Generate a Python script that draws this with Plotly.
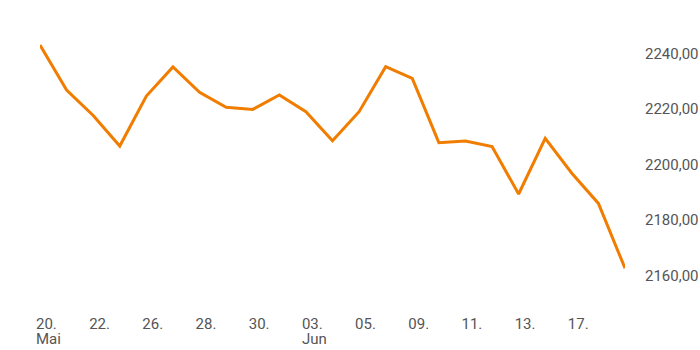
import plotly.graph_objects as go

dates = ["20.05", "21.05", "22.05", "23.05", "26.05", "27.05", "28.05", "29.05",
         "30.05", "31.05", "03.06", "04.06", "05.06", "06.06", "09.06", "10.06",
         "11.06", "12.06", "13.06", "16.06", "17.06", "18.06", "19.06"]
values = [2243.1, 2226.9, 2217.7, 2206.7, 2224.7, 2235.2, 2226.1, 2220.7,
          2219.9, 2225.1, 2219.1, 2208.6, 2219.1, 2235.3, 2231.1, 2207.9,
          2208.5, 2206.5, 2189.4, 2209.5, 2196.9, 2186.0, 2162.6]
tick_dates = ["20.05", "22.05", "26.05", "28.05", "30.05", "03.06", "05.06",
              "09.06", "11.06", "13.06", "17.06"]
tick_labels = ["20.", "22.", "26.", "28.", "30.", "03.", "05.",
               "09.", "11.", "13.", "17."]
month_dates = ["20.05", "03.06"]
month_labels = ["Mai", "Jun"]
y_ticks = [2160, 2180, 2200, 2220, 2240]
y_labels = ["2160,00", "2180,00", "2200,00", "2220,00", "2240,00"]

fig = go.Figure(go.Scatter(
    x=dates, y=values, mode="lines",
    line=dict(color="#F07D00", width=3),
    hoverinfo="skip",
))

for d, m in zip(month_dates, month_labels):
    fig.add_annotation(
        x=dates.index(d), xref="x", y=-0.099, yref="paper",
        text=m, showarrow=False, xanchor="left", yanchor="top",
        xshift=-5, borderpad=0,
        font=dict(size=15, family="Roboto", color="#555555"),
    )

fig.update_layout(
    width=700, height=350,
    margin=dict(l=40, r=75, t=10, b=50, autoexpand=False),
    paper_bgcolor="white", plot_bgcolor="white",
    showlegend=False,
    font=dict(family="Roboto", color="#555555"),
)
fig.update_xaxes(
    type="category", range=[0, len(dates) - 1], automargin=False,
    tickmode="array", tickvals=tick_dates, ticktext=tick_labels,
    ticklabelposition="outside right",
    showgrid=False, zeroline=False, showline=False, ticks="",
    tickfont=dict(size=15, family="Roboto", color="#555555"),
    ticklabelstandoff=13, ticklabelshift=-4,
)
fig.update_yaxes(
    side="right", range=[2151.16, 2255.76], automargin=False,
    tickmode="array", tickvals=y_ticks, ticktext=y_labels,
    showgrid=False, zeroline=False, showline=False, ticks="",
    tickfont=dict(size=15, family="Roboto", color="#555555"),
    ticklabelstandoff=19,
)

fig.write_html(
    "out.html",
    config={"displayModeBar": False, "staticPlot": True},
    post_script="document.body.style.margin='0';document.body.style.overflow='hidden';",
)
